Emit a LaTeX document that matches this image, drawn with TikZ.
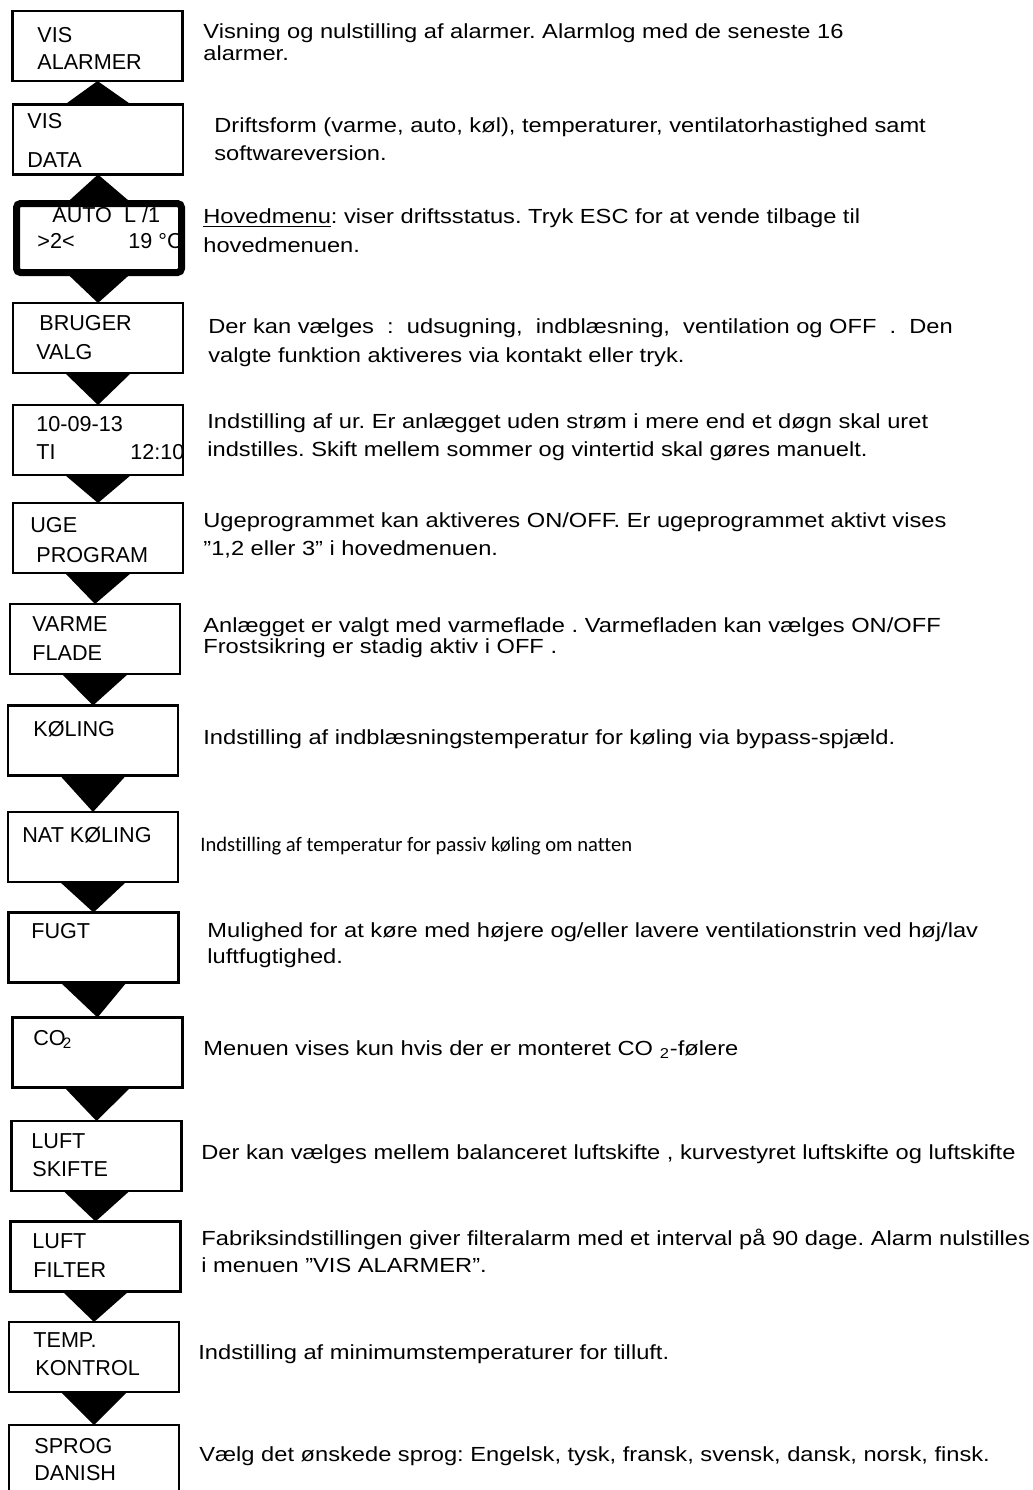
\documentclass[tikz,border=0pt]{standalone}
\usepackage{fontspec}
\setmainfont{Liberation Sans}[Ligatures=NoCommon]
\newfontfamily\descfont{Liberation Sans}[FakeStretch=1.16,Ligatures=NoCommon]
\newfontfamily\calibrifont{Carlito}[Ligatures=NoCommon]
\usepackage{tikz}
\frenchspacing

\begin{document}
\begin{tikzpicture}[x=0.5pt,y=-0.5pt,
  menubox/.style={draw,line width=1.1pt,fill=white,minimum width=85pt,minimum height=35pt,inner sep=0pt,outer sep=0pt},
  mainbox/.style={menubox,line width=3.5pt,rounded corners=2pt,minimum width=82.5pt,minimum height=34.5pt},
  boxtxt/.style={anchor=base west,inner sep=0pt,font=\fontsize{10.8}{13}\selectfont},
  desc/.style={anchor=base west,inner sep=0pt,align=left,font=\descfont\fontsize{10.2}{11}\selectfont}]
\useasboundingbox (0,0) rectangle (1033,1490);

\node[menubox] (alarm) at (97.5,46) {};
\node[menubox] (data) at (98,139.5) {};
\node[mainbox] (hoved) at (99,238) {};
\node[menubox] (bruger) at (98,338) {};
\node[menubox] (ur) at (98,440) {};
\node[menubox] (uge) at (98,538) {};
\node[menubox] (varme) at (95,639) {};
\node[menubox] (koel) at (93,740.5) {};
\node[menubox] (natkoel) at (93,847) {};
\node[menubox] (fugt) at (93.5,947.5) {};
\node[menubox] (cotwo) at (97.5,1052.5) {};
\node[menubox] (skifte) at (96.5,1156) {};
\node[menubox] (filter) at (95.5,1256.5) {};
\node[menubox] (temp) at (94,1357) {};
\node[menubox] (sprog) at (94,1460) {};

\fill (data.north) ++(-33,0) -- ++(66,0) -- (alarm.south) -- cycle;
\fill (hoved.north) ++(-33,0) -- ++(66,0) -- (data.south) -- cycle;
\foreach \a/\b in {hoved/bruger,bruger/ur,ur/uge,uge/varme,varme/koel,koel/natkoel,natkoel/fugt,fugt/cotwo,cotwo/skifte,skifte/filter,filter/temp,temp/sprog}
  \fill (\a.south) ++(-33,0) -- ++(66,0) -- (\b.north) -- cycle;

\node[boxtxt] (alarmA) at (37,42) {VIS};
\node[boxtxt] (alarmB) at (37,69) {ALARMER};
\node[boxtxt] (dataA) at (27,128) {VIS};
\node[boxtxt] (dataB) at (27,167) {DATA};
\node[boxtxt] (hovedA) at (52,222) {AUTO\ \ L /1};
\node[boxtxt] (hovedB) at (37,248) {>2<};
\node[boxtxt] (hovedC) at (128,248) {19 °C};
\node[boxtxt] (brugerA) at (39,330) {BRUGER};
\node[boxtxt] (brugerB) at (36,359) {VALG};
\node[boxtxt] (urA) at (36,431) {10-09-13};
\node[boxtxt] (urB) at (36,459) {TI};
\node[boxtxt] (urC) at (130,459) {12:10};
\node[boxtxt] (ugeA) at (30,532) {UGE};
\node[boxtxt] (ugeB) at (36,562) {PROGRAM};
\node[boxtxt] (varmeA) at (32,631) {VARME};
\node[boxtxt] (varmeB) at (32,660) {FLADE};
\node[boxtxt] (koelA) at (33,736) {KØLING};
\node[boxtxt] (natkoelA) at (22,842) {NAT KØLING};
\node[boxtxt] (fugtA) at (31,938) {FUGT};
\node[boxtxt] (cotwoA) at (33,1045) {CO\kern-1.5pt\textsubscript{2}};
\node[boxtxt] (skifteA) at (31,1148) {LUFT};
\node[boxtxt] (skifteB) at (32,1176) {SKIFTE};
\node[boxtxt] (filterA) at (32,1248) {LUFT};
\node[boxtxt] (filterB) at (33,1277) {FILTER};
\node[boxtxt] (tempA) at (33,1347) {TEMP.};
\node[boxtxt] (tempB) at (35,1375) {KONTROL};
\node[boxtxt] (sprogA) at (34,1453) {SPROG};
\node[boxtxt] (sprogB) at (34,1480) {DANISH};

\node[desc] (alarmD) at (203,60) {Visning og nulstilling af alarmer. Alarmlog med de seneste 16\\alarmer.};
\node[desc] (dataD) at (214,160) {Driftsform (varme, auto, køl), temperaturer, ventilatorhastighed samt\\[3pt]softwareversion.};
\node[desc] (hovedD) at (203,252) {\underline{Hovedmenu}: viser driftsstatus. Tryk ESC for at vende tilbage til\\[3.5pt]hovedmenuen.};
\node[desc] (brugerD) at (208,362) {Der kan vælges\ \ :\ \ udsugning,\ \ indblæsning,\ \ ventilation og OFF\ \ .\ \ Den\\[3.5pt]valgte funktion aktiveres via kontakt eller tryk.};
\node[desc] (urD) at (207,456) {Indstilling af ur. Er anlægget uden strøm i mere end et døgn skal uret\\[3pt]indstilles. Skift mellem sommer og vintertid skal gøres manuelt.};
\node[desc] (ugeD) at (203,555) {Ugeprogrammet kan aktiveres ON/OFF. Er ugeprogrammet aktivt vises\\[3pt]”1,2 eller 3” i hovedmenuen.};
\node[desc] (varmeD) at (203,653) {Anlægget er valgt med varmeflade . Varmefladen kan vælges ON/OFF\\[-0.5pt]Frostsikring er stadig aktiv i OFF .};
\node[desc] (koelD) at (203,744) {Indstilling af indblæsningstemperatur for køling via bypass-spjæld.};
\node[anchor=base west,inner sep=0pt,font=\calibrifont\fontsize{10.3}{12}\selectfont] (natkoelD) at (200,851) {Indstilling af temperatur for passiv køling om natten};
\node[desc] (fugtD) at (207,963) {Mulighed for at køre med højere og/eller lavere ventilationstrin ved høj/lav\\[2pt]luftfugtighed.};
\node[desc] (cotwoD) at (203,1055) {Menuen vises kun hvis der er monteret CO \textsubscript{2}-følere};
\node[desc] (skifteD) at (201,1159) {Der kan vælges mellem balanceret luftskifte , kurvestyret luftskifte og luftskifte};
\node[desc] (filterD) at (201,1272) {Fabriksindstillingen giver filteralarm med et interval på 90 dage. Alarm nulstilles\\[2.5pt]i menuen ”VIS ALARMER”.};
\node[desc] (tempD) at (198,1359) {Indstilling af minimumstemperaturer for tilluft.};
\node[desc] (sprogD) at (199,1461) {Vælg det ønskede sprog: Engelsk, tysk, fransk, svensk, dansk, norsk, finsk.};
\end{tikzpicture}
\end{document}
